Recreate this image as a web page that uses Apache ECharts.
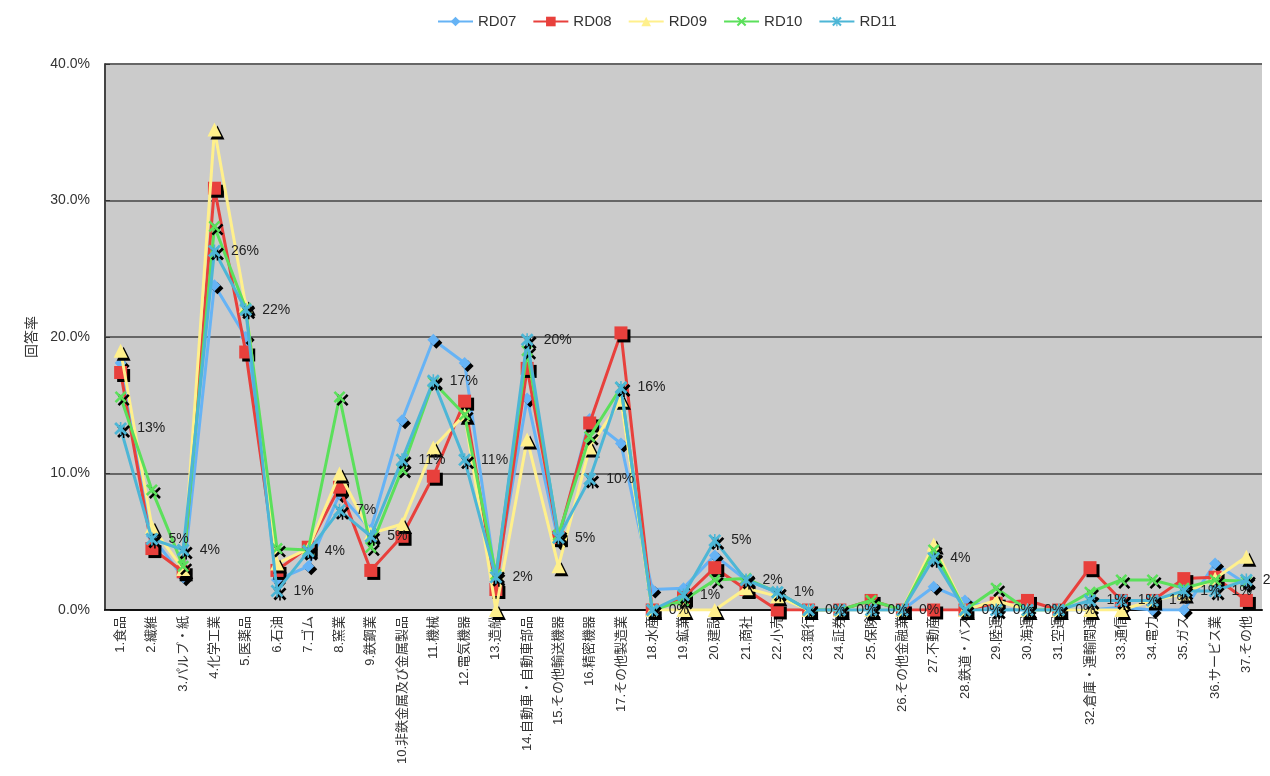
<!DOCTYPE html>
<html><head><meta charset="utf-8">
<script src="https://cdn.jsdelivr.net/npm/echarts@6/dist/echarts.min.js"></script>
<style>html,body{margin:0;padding:0;background:#fff}#c{width:1270px;height:776px}</style>
</head><body><div id="c"></div>
<script>
const categories = ['1.食品','2.繊維','3.パルプ・紙','4.化学工業','5.医薬品','6.石油','7.ゴム','8.窯業','9.鉄鋼業','10.非鉄金属及び金属製品','11.機械','12.電気機器','13.造船','14.自動車・自動車部品','15.その他輸送機器','16.精密機器','17.その他製造業','18.水産','19.鉱業','20.建設','21.商社','22.小売','23.銀行','24.証券','25.保険','26.その他金融業','27.不動産','28.鉄道・バス','29.陸運','30.海運','31.空運','32.倉庫・運輸関連','33.通信','34.電力','35.ガス','36.サービス業','37.その他'];
const RD07 = [18.1,5.4,2.4,23.8,20.0,2.2,3.2,8.5,5.9,13.9,19.8,18.1,2.2,15.5,5.0,14.0,12.2,1.5,1.6,4.0,2.2,1.3,0,0,0,0,1.7,0.7,0,0,0,0,0.2,0,0,3.4,1.9];
const RD08 = [17.4,4.5,2.8,30.9,18.9,2.9,4.6,9.0,2.9,5.4,9.8,15.3,1.5,17.7,5.3,13.7,20.3,0,0.9,3.1,1.5,0,0,0,0.7,0,0,0,0.5,0.7,0,3.1,0.7,0.7,2.3,2.4,0.7];
const RD09 = [19.0,6.1,3.0,35.2,22.3,3.4,4.5,10.0,5.6,6.3,11.9,14.3,0,12.5,3.2,11.9,15.4,0,0,0,1.6,1.0,0,0,0,0,4.8,0,0.7,0,0,0,0,0.7,1.2,2.3,3.9];
const RD10 = [15.6,8.8,3.2,28.1,22.1,4.5,4.4,15.6,4.6,10.3,16.7,14.3,2.6,19.0,5.5,12.7,16.3,0,0.7,2.2,2.3,1.3,0,0,0.7,0,4.4,0,1.6,0,0,1.3,2.2,2.2,1.6,2.2,2.1];
const RD11 = [13.3,5.2,4.4,26.3,22.0,1.4,4.3,7.3,5.4,11.0,16.8,11.0,2.4,19.8,5.3,9.6,16.3,0,1.1,5.1,2.2,1.3,0,0,0,0,3.8,0,0,0,0,0.7,0.7,0.7,1.4,1.4,2.2];
const seriesNames = ['RD07','RD08','RD09','RD10','RD11'];
const yTicks = [0,10,20,30,40];

const FONT = '"Liberation Sans","Noto Sans CJK JP",sans-serif';
const XPATH = 'path://M0,1.5 L1.5,0 L5,3.5 L8.5,0 L10,1.5 L6.5,5 L10,8.5 L8.5,10 L5,6.5 L1.5,10 L0,8.5 L3.5,5 Z';
const STAR = 'path://M0,1.5 L1.5,0 L5,3.5 L8.5,0 L10,1.5 L6.5,5 L10,8.5 L8.5,10 L5,6.5 L1.5,10 L0,8.5 L3.5,5 Z M4.4,0 L5.6,0 L5.6,10 L4.4,10 Z';
const styles = [
  {color:'#66b3f5', symbol:'diamond', size:12},
  {color:'#e8403c', symbol:'rect', size:13},
  {color:'#fff08c', symbol:'triangle', size:14},
  {color:'#5be05b', symbol:XPATH, size:12},
  {color:'#4db6d6', symbol:STAR, size:13}
];
const dataSets = [RD07,RD08,RD09,RD10,RD11];

const series = dataSets.map((d,i)=>({
  name: seriesNames[i],
  type:'line',
  data:d,
  symbol: styles[i].symbol,
  symbolSize: styles[i].size,
  showAllSymbol:true,
  lineStyle:{width:3,color:styles[i].color},
  itemStyle:{color:styles[i].color, shadowColor:'#000', shadowBlur:0, shadowOffsetX:3, shadowOffsetY:3},
  label: i===4 ? {show:true, position:'right', distance:10, fontSize:14, color:'#222', fontFamily:FONT,
    formatter:p=>Math.round(p.value)+'%'} : {show:false},
  emphasis:{disabled:true},
  animation:false,
  z: 2+i
}));

const chart = echarts.init(document.getElementById('c'));
chart.setOption({
  animation:false,
  textStyle:{fontFamily:FONT},
  legend:{
    top:9, left:432, itemWidth:35, itemHeight:12, itemGap:16,
    textStyle:{fontSize:15,color:'#333',fontFamily:FONT},
    data: seriesNames
  },
  grid:{left:105, right:8, top:64, bottom:166, show:true, backgroundColor:'#cbcbcb', borderWidth:0},
  xAxis:{
    type:'category', data:categories, boundaryGap:true,
    axisLine:{lineStyle:{color:'#111',width:2}},
    axisTick:{inside:true, length:4, lineStyle:{color:'#333'}},
    axisLabel:{rotate:90, fontSize:13, color:'#333', margin:6, interval:0, fontFamily:FONT}
  },
  yAxis:{
    type:'value', min:yTicks[0], max:yTicks[yTicks.length-1], interval:10,
    name:'回答率', nameLocation:'middle', nameRotate:90, nameGap:63,
    nameTextStyle:{fontSize:14,color:'#333',fontFamily:FONT},
    axisLine:{show:true, lineStyle:{color:'#444',width:2}},
    axisTick:{show:true, inside:true, length:5, lineStyle:{color:'#333'}},
    axisLabel:{formatter:v=>v.toFixed(1)+'%', fontSize:14, color:'#333', margin:15, fontFamily:FONT},
    splitLine:{show:true, lineStyle:{color:'#666',width:2}}
  },
  series: series
});
</script></body></html>
